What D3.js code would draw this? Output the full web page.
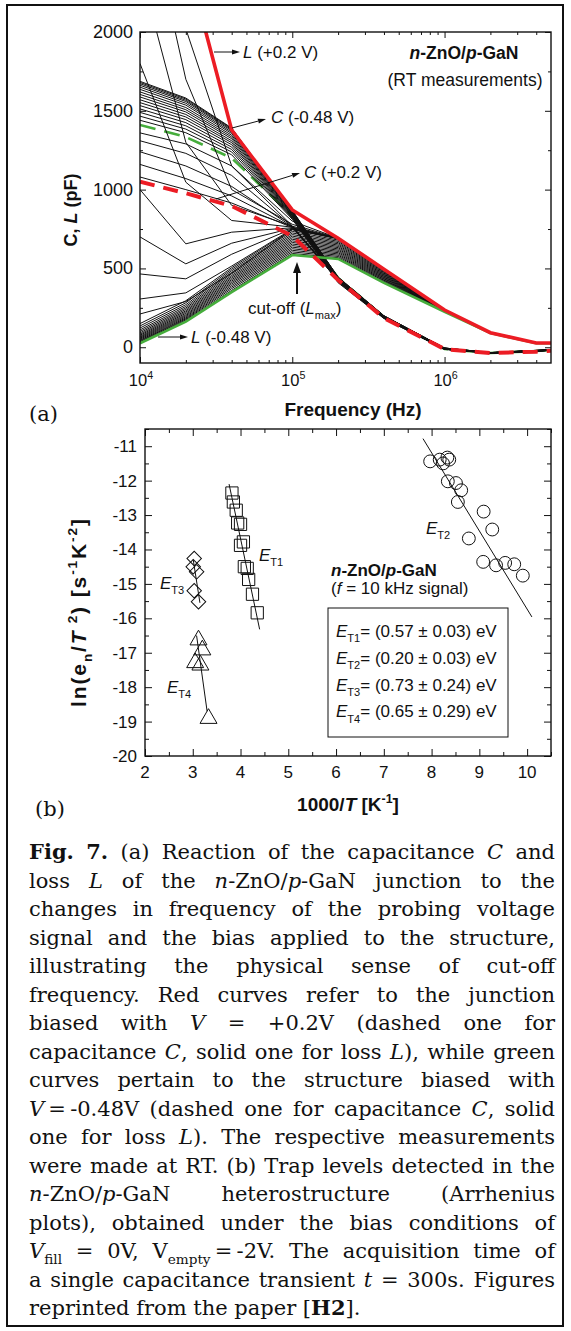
<!DOCTYPE html>
<html lang="en">
<head>
<meta charset="UTF-8">
<script src="https://d3js.org/d3.v7.min.js"></script>
<style>
  body { margin: 0; background: #fff; }
  svg text { font-family: "Liberation Sans", Arial, sans-serif; fill: #111; }
  .serif text, text.serif { font-family: "DejaVu Serif", serif; }
</style>
</head>
<body>
<script>
// ---------- panel (a): C and L versus frequency ----------
const freq = [1e4, 2e4, 4e4, 1e5, 2e5, 4e5, 1e6, 2e6, 4e6, 5e6];
const capPlus = [1050, 977, 896, 706, 427, 185, -12, -37, -28, -22];     // C, +0.2 V (red dashed)
const lossPlus = [4300, 2479, 1378, 871, 692, 495, 236, 92, 27, 27];     // L, +0.2 V (red solid)
const capMinus = [1410, 1334, 1200, 833, 440, 192, -11, -37, -24, -18];  // C, -0.48 V (green dashed)
const lossMinus = [25, 162, 350, 585, 560, 408, 225, 90, 25, 25];        // L, -0.48 V (green solid)

// intermediate biases, dense capacitance bundle
const capBundle = [
  [1687, 1581, 1391, 868, 445, 200, -5, -34, -20, -15],
  [1680, 1575, 1387, 866, 444, 199, -5, -34, -20, -15],
  [1672, 1567, 1381, 864, 443, 199, -5, -34, -20, -15],
  [1662, 1559, 1374, 862, 441, 198, -6, -34, -21, -15],
  [1650, 1548, 1365, 860, 440, 197, -6, -35, -21, -16],
  [1636, 1536, 1356, 856, 438, 196, -7, -35, -21, -16],
  [1620, 1521, 1345, 853, 435, 195, -7, -35, -21, -16],
  [1604, 1507, 1334, 849, 433, 194, -8, -35, -22, -16],
  [1588, 1493, 1323, 846, 431, 193, -9, -35, -22, -17],
  [1570, 1477, 1310, 841, 428, 192, -9, -36, -23, -17],
  [1552, 1461, 1298, 837, 426, 190, -10, -36, -23, -17],
  [1533, 1444, 1285, 833, 423, 189, -11, -36, -23, -18],
  [1512, 1425, 1270, 828, 420, 187, -11, -37, -24, -18],
  [1490, 1405, 1255, 823, 417, 186, -12, -37, -24, -19],
  [1466, 1384, 1239, 818, 413, 184, -13, -37, -25, -19],
  [1440, 1361, 1221, 812, 409, 182, -14, -38, -25, -19]
];
// intermediate biases, dense loss bundle
const lossBundle = [
  [150, 295, 505, 745, 688, 490, 235, 92, 27, 27],
  [135, 282, 495, 735, 680, 485, 234, 92, 27, 27],
  [122, 270, 485, 725, 672, 480, 234, 92, 27, 27],
  [110, 259, 475, 715, 664, 475, 233, 92, 27, 27],
  [100, 249, 466, 705, 656, 470, 233, 91, 27, 27],
  [91, 240, 456, 695, 648, 465, 232, 91, 27, 27],
  [83, 231, 447, 685, 640, 460, 232, 91, 27, 27],
  [76, 223, 438, 675, 632, 455, 231, 91, 27, 27],
  [69, 215, 429, 665, 624, 450, 230, 91, 27, 27],
  [63, 207, 420, 655, 616, 445, 230, 91, 26, 26],
  [57, 200, 411, 645, 608, 440, 229, 91, 26, 26],
  [51, 193, 402, 635, 600, 435, 229, 90, 26, 26],
  [45, 186, 392, 625, 592, 430, 228, 90, 26, 26],
  [40, 180, 382, 615, 584, 425, 227, 90, 26, 26],
  [35, 174, 372, 605, 576, 420, 227, 90, 26, 26],
  [30, 168, 361, 595, 568, 414, 226, 90, 26, 26]
];
// forward biases, sparse curves
const capSparse = [
  [1360, 1290, 1150, 770, 430, 188, -12, -37, -25, -19],
  [1310, 1230, 1090, 767, 428, 187, -12, -37, -25, -19],
  [1240, 1150, 1020, 765, 426, 186, -12, -37, -25, -19],
  [1160, 1070, 960, 763, 425, 186, -12, -37, -25, -19],
  [1080, 1000, 915, 760, 424, 185, -12, -37, -25, -19]
];
const lossSparse = [
  [211, 290, 470, 748, 690, 493, 236, 92, 27, 27],
  [306, 345, 515, 750, 690, 493, 236, 92, 27, 27],
  [465, 434, 590, 752, 691, 494, 236, 92, 27, 27],
  [700, 529, 660, 755, 691, 494, 236, 92, 27, 27],
  [1000, 656, 730, 758, 691, 494, 236, 92, 27, 27],
  [1800, 1047, 804, 762, 691, 494, 236, 92, 27, 27],
  [2400, 1300, 900, 768, 691, 494, 236, 92, 27, 27],
  [3000, 1700, 1000, 780, 692, 495, 236, 92, 27, 27],
  [3600, 2020, 1150, 800, 692, 495, 236, 92, 27, 27]
];
const capTicks = [0, 500, 1000, 1500, 2000];
const freqTicks = [1e4, 1e5, 1e6];

// ---------- panel (b): Arrhenius plots ----------
const t1X = [3.82, 3.85, 3.91, 3.94, 4.0, 4.06, 4.0, 4.08, 4.14, 4.17, 4.25, 4.35];
const t1Y = [-12.36, -12.62, -12.86, -13.23, -13.27, -13.78, -13.88, -14.5, -14.55, -14.87, -15.3, -15.84];
const t2X = [7.97, 8.17, 8.24, 8.33, 8.37, 8.34, 8.51, 8.62, 8.55, 8.78, 9.09, 9.27, 9.08, 9.35, 9.54, 9.73, 9.91];
const t2Y = [-11.44, -11.39, -11.5, -11.33, -11.39, -12.02, -12.07, -12.28, -12.62, -13.68, -12.9, -13.42, -14.36, -14.46, -14.39, -14.43, -14.76];
const t3X = [3.03, 3.01, 3.08, 3.03, 3.12];
const t3Y = [-14.26, -14.5, -14.65, -15.2, -15.52];
const t4X = [3.12, 3.2, 3.05, 3.16, 3.33];
const t4Y = [-16.63, -16.92, -17.29, -17.36, -18.91];
const fitT1 = [[3.76, -12.1], [4.40, -16.32]];
const fitT2 = [[7.82, -10.78], [10.1, -15.96]];
const fitT3 = [[3.01, -14.3], [3.15, -15.55]];
const fitT4 = [[3.08, -16.5], [3.3, -18.7]];
const trapXTicks = [2, 3, 4, 5, 6, 7, 8, 9, 10];
const trapYTicks = [-20, -19, -18, -17, -16, -15, -14, -13, -12, -11];
const legendRows = [
  '*E*_{T1}= (0.57 \u00b1 0.03) eV',
  '*E*_{T2}= (0.20 \u00b1 0.03) eV',
  '*E*_{T3}= (0.73 \u00b1 0.24) eV',
  '*E*_{T4}= (0.65 \u00b1 0.29) eV'
];

const captionLines = [
  '**Fig.** **7.** (a) Reaction of the capacitance *C* and',
  'loss *L* of the *n*-ZnO/*p*-GaN junction to the',
  'changes in frequency of the probing voltage',
  'signal and the bias applied to the structure,',
  'illustrating the physical sense of cut-off',
  'frequency. Red curves refer to the junction',
  'biased with *V* = +0.2V (dashed one for',
  'capacitance *C*, solid one for loss *L*), while green',
  'curves pertain to the structure biased with',
  '*V*\u2009=\u2009-0.48V (dashed one for capacitance *C*, solid',
  'one for loss *L*). The respective measurements',
  'were made at RT. (b) Trap levels detected in the',
  '*n*-ZnO/*p*-GaN heterostructure (Arrhenius',
  'plots), obtained under the bias conditions of',
  '*V*_{fill} = 0V, V_{empty}\u2009=\u2009-2V. The acquisition time of',
  'a single capacitance transient *t* = 300s. Figures',
  'reprinted from the paper [**H2**].'
];

const red = '#ec1c24';
const green = '#46ad3c';

// rich text: **bold**, *italic*, _{sub}, ^{sup}
function rich(sel, str, size) {
  const re = /\*\*(.+?)\*\*|\*(.+?)\*|_\{(.+?)\}|\^\{(.+?)\}|([^*_^]+)/g;
  let m, off = 0;
  while ((m = re.exec(str)) !== null) {
    const t = sel.append('tspan');
    let target = 0;
    if (m[1]) t.text(m[1]).attr('font-weight', 'bold');
    else if (m[2]) t.text(m[2]).attr('font-style', 'italic');
    else if (m[3]) { t.text(m[3]).attr('font-size', size * 0.65); target = size * 0.3; }
    else if (m[4]) { t.text(m[4]).attr('font-size', size * 0.65); target = -size * 0.42; }
    else t.text(m[5]);
    if (target !== off) { t.attr('dy', target - off); off = target; }
  }
  return sel;
}

function label(g, x, y, str, size, opts = {}) {
  const t = g.append('text').attr('x', x).attr('y', y).attr('font-size', size);
  if (opts.anchor) t.attr('text-anchor', opts.anchor);
  if (opts.bold) t.attr('font-weight', 'bold');
  if (opts.cls) t.attr('class', opts.cls);
  return rich(t, str, size);
}

function arrow(g, x1, y1, x2, y2, w, hl, hw) {
  const a = Math.atan2(y2 - y1, x2 - x1);
  const bx = x2 - hl * Math.cos(a), by = y2 - hl * Math.sin(a);
  g.append('line').attr('x1', x1).attr('y1', y1).attr('x2', bx).attr('y2', by)
    .attr('stroke', '#111').attr('stroke-width', w);
  const px = Math.sin(a) * hw / 2, py = -Math.cos(a) * hw / 2;
  g.append('path').attr('d', `M${x2},${y2}L${bx + px},${by + py}L${bx - px},${by - py}Z`).attr('fill', '#111');
}

const svg = d3.select('body').append('svg').attr('width', 571).attr('height', 1331);

svg.append('rect').attr('x', 7).attr('y', 5).attr('width', 556).attr('height', 1321)
  .attr('fill', 'none').attr('stroke', '#111').attr('stroke-width', 2);

// ================= panel (a) =================
const xA = d3.scaleLog().domain([1e4, 5e6]).range([140, 551]);
const yA = d3.scaleLinear().domain([-100, 2000]).range([363, 32]);
const lineA = d3.line().x((d, i) => xA(freq[i])).y(d => yA(d));

const gA = svg.append('g');
gA.append('clipPath').attr('id', 'clipA').append('rect')
  .attr('x', 140).attr('y', 32).attr('width', 411).attr('height', 331);
const curves = gA.append('g').attr('clip-path', 'url(#clipA)').attr('fill', 'none');

curves.append('path').attr('d', lineA(capMinus)).attr('stroke', green)
  .attr('stroke-width', 2.6).attr('stroke-dasharray', '16,9');
curves.selectAll('.cb').data(capBundle.concat(capSparse)).join('path')
  .attr('d', lineA).attr('stroke', '#111').attr('stroke-width', 1);
curves.selectAll('.lb').data(lossBundle.concat(lossSparse)).join('path')
  .attr('d', lineA).attr('stroke', '#111').attr('stroke-width', 1);
curves.append('path').attr('d', lineA(lossMinus)).attr('stroke', green).attr('stroke-width', 2.6);
curves.append('path').attr('d', lineA(capPlus)).attr('stroke', red)
  .attr('stroke-width', 4).attr('stroke-dasharray', '15,9');
curves.append('path').attr('d', lineA(lossPlus)).attr('stroke', red).attr('stroke-width', 3.6);

// axes (ticks inward on all sides)
const minorFreq = xA.ticks().filter(v => !freqTicks.includes(v) && v < 5e6);
const minorCap = d3.range(250, 2000, 500);
function axesA() {
  const defs = [
    [d3.axisBottom(xA).tickValues(freqTicks), 'translate(0,363)', d3.axisBottom(xA).tickValues(minorFreq)],
    [d3.axisTop(xA).tickValues(freqTicks), 'translate(0,32)', d3.axisTop(xA).tickValues(minorFreq)],
    [d3.axisLeft(yA).tickValues(capTicks), 'translate(140,0)', d3.axisLeft(yA).tickValues(minorCap)],
    [d3.axisRight(yA).tickValues(capTicks), 'translate(551,0)', d3.axisRight(yA).tickValues(minorCap)]
  ];
  defs.forEach(([maj, tr, min]) => {
    gA.append('g').attr('transform', tr).call(maj.tickSize(-6).tickFormat(''))
      .call(g => g.select('.domain').remove());
    gA.append('g').attr('transform', tr).call(min.tickSize(-3).tickFormat(''))
      .call(g => g.select('.domain').remove());
  });
  gA.selectAll('.tick line').attr('stroke', '#111').attr('stroke-width', 1);
}
axesA();
gA.append('rect').attr('x', 140).attr('y', 32).attr('width', 411).attr('height', 331)
  .attr('fill', 'none').attr('stroke', '#111').attr('stroke-width', 1.4);

capTicks.forEach(v => label(gA, 133, yA(v) + 6, String(v), 18, { anchor: 'end' }));
freqTicks.forEach(v => label(gA, xA(v) + 1, 386, '10^{' + Math.log10(v) + '}', 16.5, { anchor: 'middle' }));
label(gA, 353, 416, 'Frequency (Hz)', 19, { anchor: 'middle', bold: true });
label(gA, 0, 0, 'C, *L* (pF)', 18, { anchor: 'middle', bold: true })
  .attr('transform', 'translate(77,210) rotate(-90)');
label(gA, 29, 421, '(a)', 21, { cls: 'serif' });

label(gA, 464, 59, '*n*-ZnO/*p*-GaN', 17.5, { anchor: 'middle', bold: true });
label(gA, 465, 86, '(RT measurements)', 17.5, { anchor: 'middle' });
label(gA, 243, 58, '*L* (+0.2 V)', 17);
arrow(gA, 214, 52, 240, 52, 1, 8, 5);
label(gA, 271, 123, '*C* (-0.48 V)', 17);
arrow(gA, 232, 128, 266, 119, 1, 8, 5);
label(gA, 304, 178, '*C* (+0.2 V)', 17);
arrow(gA, 216, 199, 300, 173, 1, 8, 5);
label(gA, 248, 314, 'cut-off (*L*_{max})', 17);
arrow(gA, 297, 294, 297, 262, 2, 11, 8);
label(gA, 191, 343, '*L* (-0.48 V)', 17);
arrow(gA, 158, 337, 188, 337, 1, 8, 5);

// ================= panel (b) =================
const xB = d3.scaleLinear().domain([2, 10.5]).range([145, 551]);
const yB = d3.scaleLinear().domain([-20, -10.5]).range([756, 429]);
const gB = svg.append('g');

const minorX = d3.range(2.5, 10.6, 1);
const minorY = d3.range(-19.5, -10.4, 1);
[
  [d3.axisBottom(xB).tickValues(trapXTicks), 'translate(0,756)', d3.axisBottom(xB).tickValues(minorX)],
  [d3.axisTop(xB).tickValues(trapXTicks), 'translate(0,429)', d3.axisTop(xB).tickValues(minorX)],
  [d3.axisLeft(yB).tickValues(trapYTicks), 'translate(145,0)', d3.axisLeft(yB).tickValues(minorY)],
  [d3.axisRight(yB).tickValues(trapYTicks), 'translate(551,0)', d3.axisRight(yB).tickValues(minorY)]
].forEach(([maj, tr, min]) => {
  gB.append('g').attr('transform', tr).call(maj.tickSize(-7).tickFormat(''))
    .call(g => g.select('.domain').remove());
  gB.append('g').attr('transform', tr).call(min.tickSize(-4).tickFormat(''))
    .call(g => g.select('.domain').remove());
});
gB.selectAll('.tick line').attr('stroke', '#111').attr('stroke-width', 1);
gB.append('rect').attr('x', 145).attr('y', 429).attr('width', 406).attr('height', 327)
  .attr('fill', 'none').attr('stroke', '#111').attr('stroke-width', 1.4);

trapYTicks.forEach(v => label(gB, 137, yB(v) + 6, String(v), 17, { anchor: 'end' }));
trapXTicks.forEach(v => label(gB, xB(v), 778, String(v), 17, { anchor: 'middle' }));
label(gB, 348, 811, '1000/*T* [K^{-1}]', 19, { anchor: 'middle', bold: true });
label(gB, 0, 0, 'ln(e_{n}/*T*\u2009^{2}) [s^{-1}K^{-2}]', 21, { anchor: 'middle', bold: true })
  .attr('transform', 'translate(86,613) rotate(-90)')
  .attr('textLength', 188).attr('lengthAdjust', 'spacing');
label(gB, 35, 816, '(b)', 21, { cls: 'serif' });

// fit lines
const lineB = d3.line().x(d => xB(d[0])).y(d => yB(d[1]));
[fitT1, fitT2, fitT3, fitT4].forEach(f => gB.append('path').attr('d', lineB(f))
  .attr('fill', 'none').attr('stroke', '#111').attr('stroke-width', 1));

function markers(xs, ys, type, size, rot) {
  const sym = d3.symbol().type(type).size(size);
  gB.append('g').selectAll('path').data(xs).join('path')
    .attr('d', sym)
    .attr('transform', (d, i) => `translate(${xB(d)},${yB(ys[i])}) rotate(${rot})`)
    .attr('fill', 'none').attr('stroke', '#111').attr('stroke-width', 1);
}
markers(t1X, t1Y, d3.symbolSquare, 150, 0);
markers(t2X, t2Y, d3.symbolCircle, 130, 0);
markers(t3X, t3Y, d3.symbolSquare, 105, 45);
markers(t4X, t4Y, d3.symbolTriangle, 125, 0);

label(gB, 259, 561, '*E*_{T1}', 17);
label(gB, 426, 534, '*E*_{T2}', 17);
label(gB, 160, 589, '*E*_{T3}', 17);
label(gB, 167, 693, '*E*_{T4}', 17);
label(gB, 331, 576, '*n*-ZnO/*p*-GaN', 17, { bold: true });
label(gB, 331, 594, '(*f* = 10 kHz signal)', 17);

gB.append('rect').attr('x', 328).attr('y', 608).attr('width', 180).attr('height', 129)
  .attr('fill', 'none').attr('stroke', '#111').attr('stroke-width', 1);
legendRows.forEach((r, i) => label(gB, 336, 637 + i * 26.8, r, 17));

// ================= caption =================
const gC = svg.append('g').attr('class', 'serif');
const capLeft = 29, capWidth = 526, capSize = 21;
captionLines.forEach((ln, li) => {
  const y = 859 + li * 28.5;
  const words = ln.split(' ');
  const nodes = words.map(w => label(gC, 0, y, w, capSize));
  const widths = nodes.map(n => n.node().getComputedTextLength());
  const total = d3.sum(widths);
  const last = li === captionLines.length - 1;
  const gap = last ? capSize * 0.318 : (capWidth - total) / (words.length - 1);
  let x = capLeft;
  nodes.forEach((n, i) => { n.attr('x', x); x += widths[i] + gap; });
});
</script>
</body>
</html>
